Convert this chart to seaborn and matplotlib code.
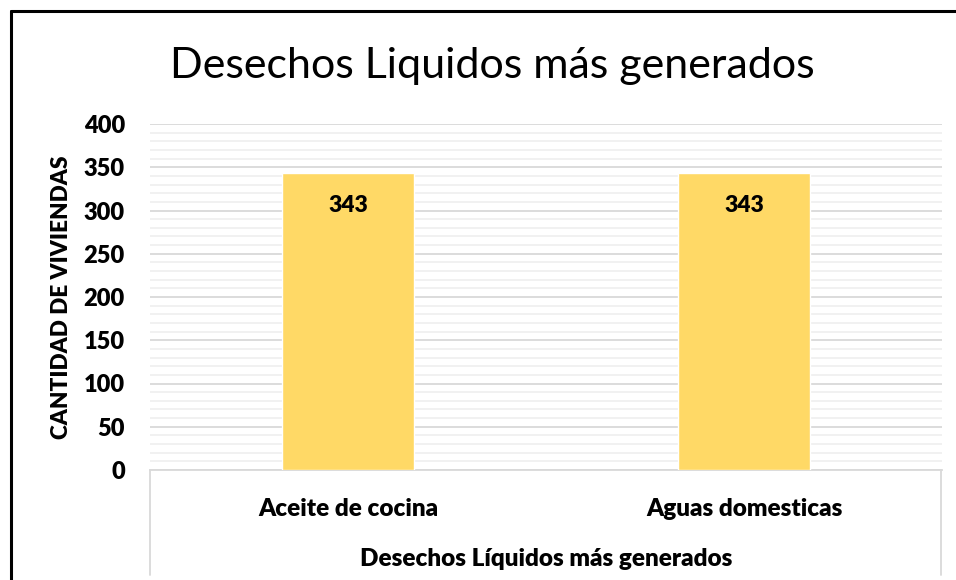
import matplotlib
matplotlib.use("Agg")
import matplotlib.pyplot as plt
import seaborn as sns
import pandas as pd
from matplotlib.lines import Line2D
from matplotlib.ticker import MultipleLocator

categories = ["Aceite de cocina", "Aguas domesticas"]
viviendas = [343, 343]
y_ticks = [0, 50, 100, 150, 200, 250, 300, 350, 400]

title = "Desechos Liquidos más generados"
x_title = "Desechos Líquidos más generados"
y_title = "CANTIDAD DE VIVIENDAS"

sns.set_theme(style="white")
plt.rcParams["font.family"] = ["Lato", "DejaVu Sans"]

df = pd.DataFrame({"categoria": categories, "viviendas": viviendas})

W, H = 956, 580
fig = plt.figure(figsize=(W / 100, H / 100), dpi=100)
ax = fig.add_axes([150 / W, 1 - 470 / H, (942 - 150) / W, (470 - 124) / H])

bar_color = "#FFD966"
sns.barplot(data=df, x="categoria", y="viviendas", color=bar_color,
            width=0.333, saturation=1, ax=ax, zorder=3)

ax.set_ylim(0, 400)
ax.set_xlim(-0.5, 1.5)
ax.yaxis.set_minor_locator(MultipleLocator(10))
ax.tick_params(axis="y", which="both", length=0, pad=18)
ax.tick_params(axis="x", length=0, pad=20)
ax.set_yticks(y_ticks, labels=[str(t) for t in y_ticks])
ax.set_xticks(range(len(categories)), labels=categories)
for lab in ax.get_yticklabels():
    lab.set_fontweight("heavy")
    lab.set_fontsize(17)
    lab.set_color("black")
for lab in ax.get_xticklabels():
    lab.set_fontweight("heavy")
    lab.set_fontsize(17.5)
    lab.set_color("black")

ax.grid(axis="y", which="major", color="#D9D9D9", linewidth=1.3, zorder=0)
ax.grid(axis="y", which="minor", color="#F0F0F0", linewidth=1.3, zorder=0)
ax.grid(axis="x", visible=False)
for s in ["left", "right", "top"]:
    ax.spines[s].set_visible(False)
ax.spines["bottom"].set_color("#D9D9D9")
ax.spines["bottom"].set_linewidth(1.3)

ax.set_xlabel(x_title, fontsize=17.5, fontweight="heavy", color="black", labelpad=20)
ax.set_ylabel(y_title, fontsize=16.3, fontweight="heavy", color="black")
ax.yaxis.set_label_coords((72 - 150) / (942 - 150), (470 - 297) / (470 - 124))

# value labels inside the top of each bar
for cont in ax.containers:
    ax.bar_label(cont, labels=[f"{v:d}" for v in viviendas], label_type="edge",
                 padding=-31, fontsize=16.5, fontweight="heavy", color="black")

# category axis box
for xv in (150, 941):
    fig.add_artist(Line2D([xv / W, xv / W], [1 - 470 / H, 1 - 575 / H],
                          color="#D9D9D9", linewidth=1.3))

fig.text(492 / W, 1 - 66 / H, title, ha="center", va="center",
         fontsize=31, color="black")

# chart frame
fig.add_artist(Line2D([11 / W, 11 / W], [0, 1 - 11 / H], color="black", linewidth=2.2))
fig.add_artist(Line2D([11 / W, 1], [1 - 11 / H, 1 - 11 / H], color="black", linewidth=2.2))

fig.savefig("out.png", dpi=100)
